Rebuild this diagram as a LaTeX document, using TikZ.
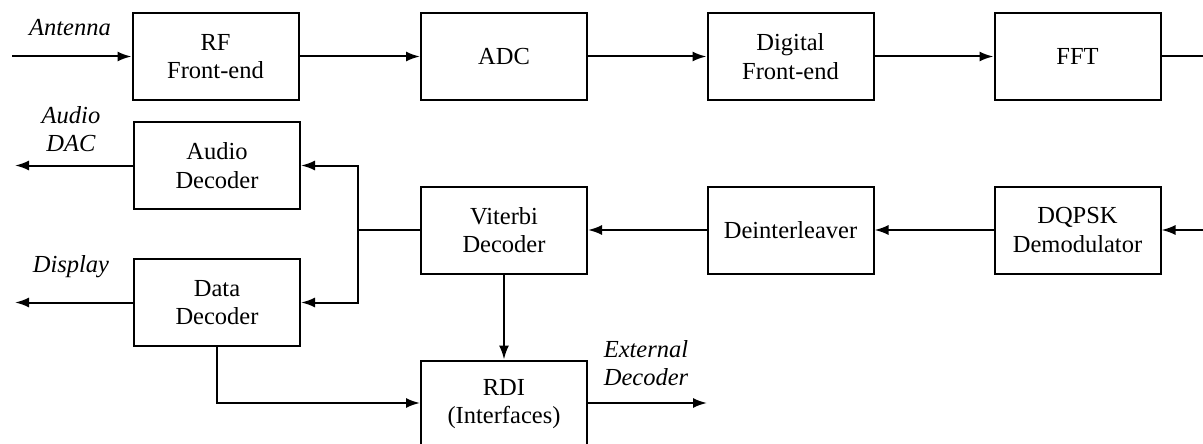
\documentclass[tikz,border=0pt]{standalone}
\usepackage{fontspec}
\setmainfont{Liberation Serif}
\usetikzlibrary{arrows.meta}

\begin{document}
\begin{tikzpicture}[
    x=1pt,
    y=-1pt,
    font=\fontsize{24.5}{28.5}\selectfont,
    >={Latex[length=14pt,width=10pt]},
    block/.style={draw, line width=2pt, minimum width=166pt, minimum height=87pt, align=center, inner sep=0pt},
    link/.style={line width=2pt, ->},
    wire/.style={line width=2pt},
    portlabel/.style={font=\fontsize{24.5}{28.5}\selectfont\itshape, align=center, inner sep=0pt}
]
\useasboundingbox (0,0) rectangle (1203,444);

% Receiver chain, top row
\node[block] (rf)  at (215.5,56.5) {RF\\Front-end};
\node[block] (adc) at (504,56.5)   {ADC};
\node[block] (dfe) at (790.5,56.5) {Digital\\Front-end};
\node[block] (fft) at (1077.5,56.5) {FFT};

% Decoding chain, middle row
\node[block] (dqpsk) at (1077.5,230) {DQPSK\\Demodulator};
\node[block] (deint) at (790.5,230)  {Deinterleaver};
\node[block] (vit)   at (504,230)    {Viterbi\\Decoder};

% Source decoders and interfaces
\node[block] (audio) at (217,165.5) {Audio\\Decoder};
\node[block] (data)  at (217,302.5) {Data\\Decoder};
\node[block] (rdi)   at (504,404)   {RDI\\(Interfaces)};

% Free ends
\coordinate (antIn)   at (12,56.5);
\coordinate (fftOut)  at (1203,56.5);
\coordinate (demodIn) at (1203,230);
\coordinate (dacOut)  at (15,165.5);
\coordinate (dispOut) at (15,302.5);
\coordinate (extOut)  at (707,403);
\coordinate (branch)  at (358,230);

% Port labels
\node[portlabel] (antLab)  at (70,28)   {Antenna};
\node[portlabel] (dacLab)  at (71,129)  {Audio\\DAC};
\node[portlabel] (dispLab) at (71,267)  {Display};
\node[portlabel] (extLab)  at (646,363) {External\\Decoder};

% Top row connectors
\draw[link] (antIn) -- (rf);
\draw[link] (rf) -- (adc);
\draw[link] (adc) -- (dfe);
\draw[link] (dfe) -- (fft);
\draw[wire] (fft) -- (fftOut);

% Middle row connectors
\draw[link] (demodIn) -- (dqpsk);
\draw[link] (dqpsk) -- (deint);
\draw[link] (deint) -- (vit);

% Split to source decoders
\draw[wire] (vit) -- (branch);
\draw[link] (branch) |- (audio);
\draw[link] (branch) |- (data);
\draw[link] (audio) -- (dacOut);
\draw[link] (data) -- (dispOut);

% Interfaces
\draw[link] (vit) -- (rdi);
\draw[link] (data.south) |- (rdi.west |- extOut);
\draw[link] (rdi.east |- extOut) -- (extOut);

\end{tikzpicture}
\end{document}
